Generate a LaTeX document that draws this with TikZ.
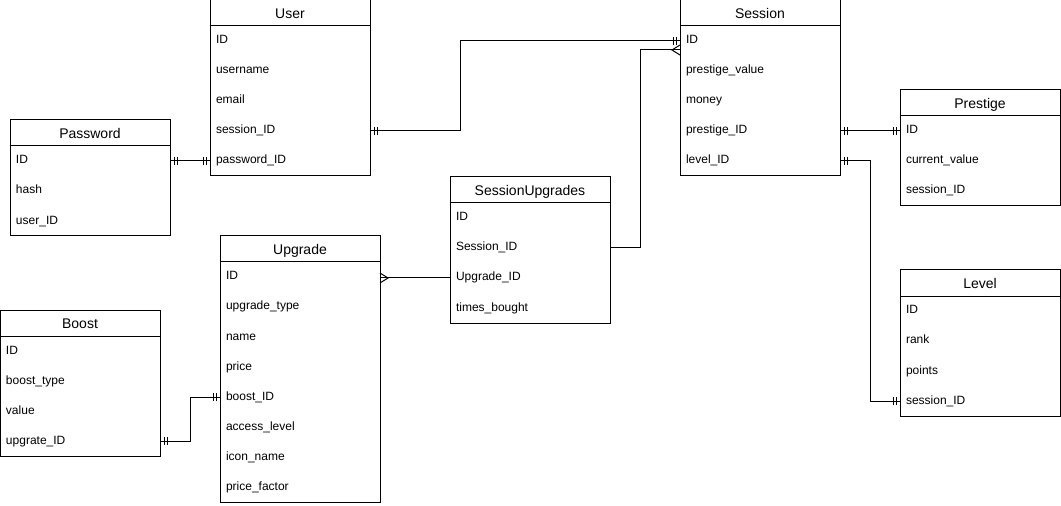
\documentclass[tikz,border=0pt]{standalone}
\usepackage{fontspec}
\setmainfont{Liberation Sans}
\usetikzlibrary{positioning}

% entity-relation ends: one (two bars) and many (crow's foot)
\pgfdeclarearrow{
  name = erone,
  setup code = {
    \pgfarrowssettipend{0pt}
    \pgfarrowssetlineend{0pt}
    \pgfarrowssetbackend{-6pt}
    \pgfarrowsupperhullpoint{0pt}{3pt}
    \pgfarrowsupperhullpoint{-6pt}{3pt}
  },
  drawing code = {
    \pgfpathmoveto{\pgfpoint{-3pt}{-3pt}}
    \pgfpathlineto{\pgfpoint{-3pt}{3pt}}
    \pgfpathmoveto{\pgfpoint{-5.25pt}{-3pt}}
    \pgfpathlineto{\pgfpoint{-5.25pt}{3pt}}
    \pgfusepathqstroke
  },
}
\pgfdeclarearrow{
  name = ermany,
  setup code = {
    \pgfarrowssettipend{0pt}
    \pgfarrowssetlineend{0pt}
    \pgfarrowssetbackend{-6pt}
    \pgfarrowsupperhullpoint{0pt}{3.75pt}
    \pgfarrowsupperhullpoint{-6pt}{3.75pt}
  },
  drawing code = {
    \pgfpathmoveto{\pgfpoint{0pt}{3.75pt}}
    \pgfpathlineto{\pgfpoint{-6pt}{0pt}}
    \pgfpathlineto{\pgfpoint{0pt}{-3.75pt}}
    \pgfusepathqstroke
  },
}

\begin{document}
\begin{tikzpicture}[x=0.75pt, y=-0.75pt, line width=0.75pt,
  head/.style = {draw, anchor=north west, minimum width=120pt, minimum height=19.5pt,
    inner sep=0pt, outer sep=0pt, text height=8.5pt, text depth=0pt,
    font=\fontsize{10.5}{12}\selectfont},
  field/.style = {anchor=north, minimum width=120pt, text width=111pt, inner xsep=4.5pt,
    inner ysep=0pt, outer sep=0pt, minimum height=22.5pt, text height=6.5pt, text depth=2pt,
    align=left, font=\fontsize{9}{11}\selectfont}]
\useasboundingbox (0,0) rectangle (1061,506);

% User
\node[head] (user) at (210,0) {User};
\node[field, below=0pt of user] (user-id) {ID};
\node[field, below=0pt of user-id] (user-name) {username};
\node[field, below=0pt of user-name] (user-mail) {email};
\node[field, below=0pt of user-mail] (user-sid) {session\_ID};
\node[field, below=0pt of user-sid] (user-pid) {password\_ID};
\draw (user.south west) rectangle (user-pid.south east);

% Session
\node[head] (sess) at (680,0) {Session};
\node[field, below=0pt of sess] (sess-id) {ID};
\node[field, below=0pt of sess-id] (sess-pval) {prestige\_value};
\node[field, below=0pt of sess-pval] (sess-money) {money};
\node[field, below=0pt of sess-money] (sess-pid) {prestige\_ID};
\node[field, below=0pt of sess-pid] (sess-lid) {level\_ID};
\draw (sess.south west) rectangle (sess-lid.south east);

% Password
\node[head] (pass) at (10,120) {Password};
\node[field, below=0pt of pass] (pass-id) {ID};
\node[field, below=0pt of pass-id] (pass-hash) {hash};
\node[field, below=0pt of pass-hash] (pass-uid) {user\_ID};
\draw (pass.south west) rectangle (pass-uid.south east);

% Prestige
\node[head] (pres) at (900,90) {Prestige};
\node[field, below=0pt of pres] (pres-id) {ID};
\node[field, below=0pt of pres-id] (pres-val) {current\_value};
\node[field, below=0pt of pres-val] (pres-sid) {session\_ID};
\draw (pres.south west) rectangle (pres-sid.south east);

% SessionUpgrades
\node[head] (su) at (450,177) {SessionUpgrades};
\node[field, below=0pt of su] (su-id) {ID};
\node[field, below=0pt of su-id] (su-sid) {Session\_ID};
\node[field, below=0pt of su-sid] (su-uid) {Upgrade\_ID};
\node[field, below=0pt of su-uid] (su-times) {times\_bought};
\draw (su.south west) rectangle (su-times.south east);

% Upgrade
\node[head] (upg) at (220,236) {Upgrade};
\node[field, below=0pt of upg] (upg-id) {ID};
\node[field, below=0pt of upg-id] (upg-type) {upgrade\_type};
\node[field, below=0pt of upg-type] (upg-name) {name};
\node[field, below=0pt of upg-name] (upg-price) {price};
\node[field, below=0pt of upg-price] (upg-bid) {boost\_ID};
\node[field, below=0pt of upg-bid] (upg-acc) {access\_level};
\node[field, below=0pt of upg-acc] (upg-icon) {icon\_name};
\node[field, below=0pt of upg-icon] (upg-fac) {price\_factor};
\draw (upg.south west) rectangle (upg-fac.south east);

% Boost
\node[head] (boost) at (0,310) {Boost};
\node[field, below=0pt of boost] (boost-id) {ID};
\node[field, below=0pt of boost-id] (boost-type) {boost\_type};
\node[field, below=0pt of boost-type] (boost-val) {value};
\node[field, below=0pt of boost-val] (boost-uid) {upgrate\_ID};
\draw (boost.south west) rectangle (boost-uid.south east);

% Level
\node[head] (lvl) at (900,270) {Level};
\node[field, below=0pt of lvl] (lvl-id) {ID};
\node[field, below=0pt of lvl-id] (lvl-rank) {rank};
\node[field, below=0pt of lvl-rank] (lvl-pts) {points};
\node[field, below=0pt of lvl-pts] (lvl-sid) {session\_ID};
\draw (lvl.south west) rectangle (lvl-sid.south east);

% relations
\draw[erone-erone] (user-sid.east) -- ++(90,0) |- (sess-id.west);
\draw[erone-erone] (pass-id.east) -- (user-pid.west);
\draw[-ermany] (su-sid.east) -- ++(30,0) |- ([yshift=-6.75pt]sess-id.west);
\draw[-ermany] (su-uid.west) -- (upg-id.east |- su-uid.west);
\draw[erone-erone] (boost-uid.east) -- ++(30,0) |- (upg-bid.west);
\draw[erone-erone] (sess-pid.east) -- (pres-id.west);
\draw[erone-erone] (sess-lid.east) -- ++(30,0) |- (lvl-sid.west);
\end{tikzpicture}
\end{document}
